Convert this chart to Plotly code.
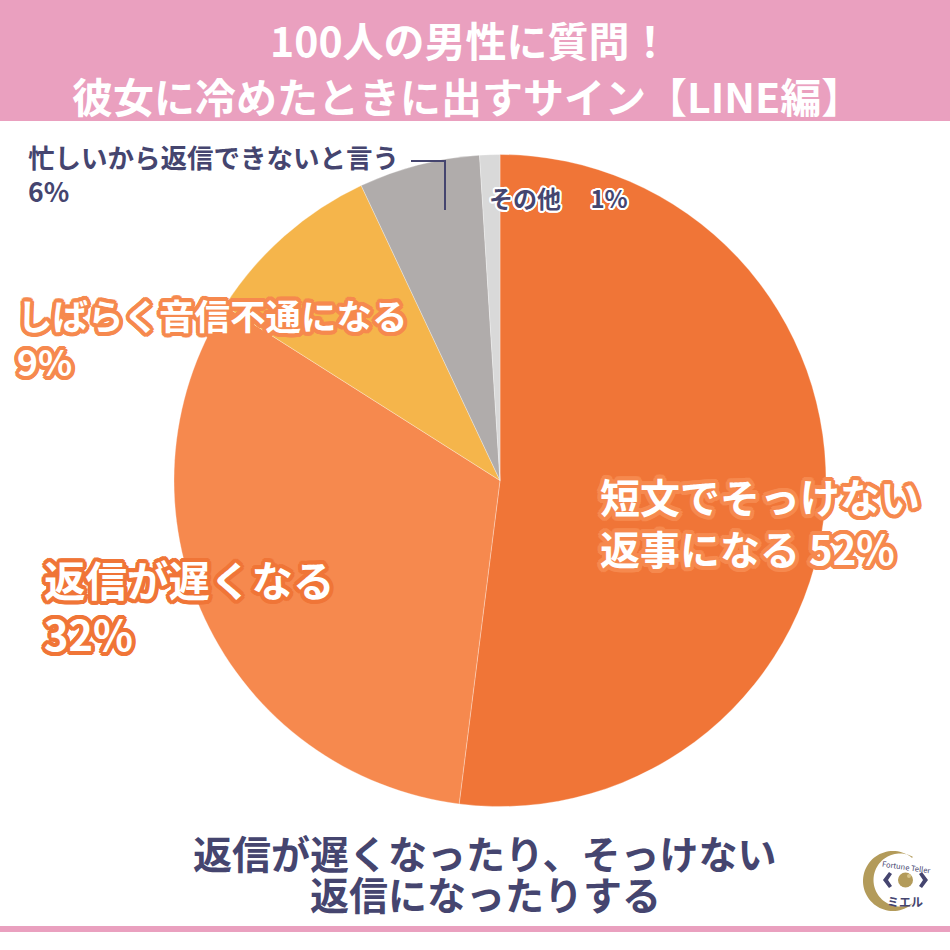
import numpy as np
import plotly.graph_objects as go

# ---- data ----
categories = ["短文でそっけない返事になる", "返信が遅くなる", "しばらく音信不通になる",
              "忙しいから返信できないと言う", "その他"]
values = [52, 32, 9, 6, 1]
colors = ["#F07537", "#F6894E", "#F5B54B", "#B0ACAB", "#D9D9D9"]
title_lines = ["100人の男性に質問！", "彼女に冷めたときに出すサイン【LINE編】"]
summary_lines = ["返信が遅くなったり、そっけない", "返信になったりする"]

W = H = 950
FONT = "Noto Sans CJK JP"
NAVY = "#45456F"
PINK = "#EAA0BF"
GOLD = "#B39B5A"

def px(x):
    return x / W

def py(y):
    return 1 - y / H

def outline(color, r=3):
    parts = []
    for a in np.linspace(0, 2 * np.pi, 16, endpoint=False):
        parts.append(f"{r*np.cos(a):.1f}px {r*np.sin(a):.1f}px 0 {color}")
    return ", ".join(parts)

fig = go.Figure()

cx, cy, R = 500, 480.5, 326
fig.add_trace(go.Pie(
    labels=categories, values=values, sort=False, direction="clockwise", rotation=0,
    marker=dict(colors=colors, line=dict(color="rgba(255,255,255,0.5)", width=0.6)),
    textinfo="none", hoverinfo="label+percent", showlegend=False,
    domain=dict(x=[px(cx - R), px(cx + R)], y=[py(cy + R), py(cy - R)]),
))

shapes = [
    dict(type="rect", xref="paper", yref="paper", x0=0, x1=1, y0=py(121), y1=1,
         fillcolor=PINK, line=dict(width=0), layer="below"),
    dict(type="rect", xref="paper", yref="paper", x0=0, x1=1, y0=py(932), y1=py(926),
         fillcolor=PINK, line=dict(width=0)),
    # leader line for 6%
    dict(type="path", xref="paper", yref="paper",
         path=f"M {px(411)},{py(161)} L {px(445)},{py(161)} L {px(445)},{py(210)}",
         line=dict(color=NAVY, width=2)),
]

# ---- logo (decoration) ----
t = np.linspace(np.pi * 0.28, np.pi * 1.72, 60)
ox, oy, orad = 893, 881, 30
ix, iy, irad = 900, 880, 26.5
outer = [(ox + orad * np.cos(a), oy - orad * np.sin(a)) for a in t]
t2 = np.linspace(np.pi * 1.66, np.pi * 0.34, 60)
inner = [(ix + irad * np.cos(a), iy - irad * np.sin(a)) for a in t2]
pts = outer + inner
path = "M " + " L ".join(f"{px(x):.5f},{py(y):.5f}" for x, y in pts) + " Z"
shapes.append(dict(type="path", xref="paper", yref="paper", path=path,
                   fillcolor=GOLD, line=dict(width=0)))
for pth in [
    [(889, 872), (883, 880), (889, 888), (892, 886), (888, 880), (892, 874)],
    [(922, 872), (928, 880), (922, 888), (919, 886), (923, 880), (919, 874)],
]:
    shapes.append(dict(type="path", xref="paper", yref="paper",
                       path="M " + " L ".join(f"{px(x):.5f},{py(y):.5f}" for x, y in pth) + " Z",
                       fillcolor=NAVY, line=dict(width=0)))
shapes.append(dict(type="circle", xref="paper", yref="paper",
                   x0=px(898), x1=px(913), y0=py(887.5), y1=py(872.5),
                   fillcolor=GOLD, line=dict(width=0)))
shapes.append(dict(type="circle", xref="paper", yref="paper",
                   x0=px(907), x1=px(911), y0=py(878), y1=py(874),
                   fillcolor="#D8C48A", line=dict(width=0)))

annotations = []

def ann(text, x, y, size, color, xanchor="left", shadow=None, weight="bold", align="left", angle=0):
    f = dict(family=FONT, size=size, color=color, weight=weight)
    if shadow:
        f["shadow"] = shadow
    annotations.append(dict(text=text, x=px(x), y=py(y), xref="paper", yref="paper",
                            xanchor=xanchor, yanchor="middle", showarrow=False,
                            align=align, font=f, textangle=angle))

# title
ann(title_lines[0], 470, 39, 41, "white", xanchor="center", align="center")
ann(title_lines[1], 467, 95, 41, "white", xanchor="center", align="center")

# slice labels
ann("短文でそっけない<br>返事になる 52%", 598, 522, 40, "white", shadow=outline("#F6894E", 4))
ann("返信が遅くなる<br>32%", 42, 606, 41.5, "white", shadow=outline("#F07537", 4))
ann("しばらく音信不通になる<br>9%", 15, 337, 35.5, "white", shadow=outline("#F6894E", 4))
ann("忙しいから返信できないと言う<br>6%", 26, 174, 26.5, NAVY)
ann("その他　 1%", 487, 197, 24, NAVY, shadow=outline("white", 2))

# summary
ann(summary_lines[0], 484, 852, 39, NAVY, xanchor="center", align="center")
ann(summary_lines[1], 485, 893, 39, NAVY, xanchor="center", align="center")

# logo text
ann("Fortune Teller", 906, 866, 7.5, NAVY, xanchor="center", weight="normal", angle=8)
ann("ミエル", 905, 901, 12, NAVY, xanchor="center", weight="bold")

fig.update_layout(
    width=W, height=H, margin=dict(l=0, r=0, t=0, b=0),
    paper_bgcolor="white", plot_bgcolor="white",
    shapes=shapes, annotations=annotations,
    font=dict(family=FONT),
)

fig.write_html("out.html")
